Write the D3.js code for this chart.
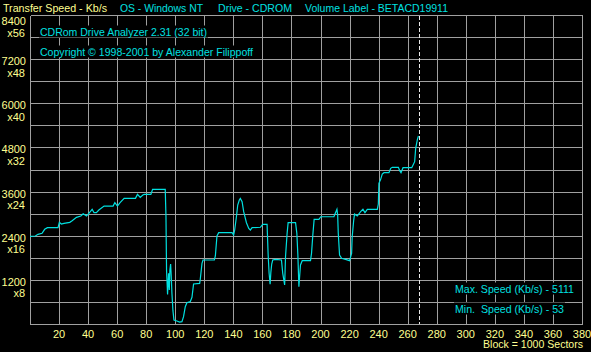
<!DOCTYPE html>
<html>
<head>
<meta charset="utf-8">
<script src="https://cdn.jsdelivr.net/npm/d3@7"></script>
<style>
  html, body { margin: 0; padding: 0; background: #000; }
  svg { display: block; }
  text { font-family: 'Liberation Sans', Arial, sans-serif; font-size: 11px; white-space: pre; }
</style>
</head>
<body>
<svg id="chart" width="591" height="352"></svg>
<script>
const width = 591, height = 352

// block number (x 1000 sectors) and transfer speed (Kb/s)
const blocks = [0, 3.7, 5.5, 8.3, 10.1, 12, 19.3, 20.2, 21.6, 23.4, 27.4, 29, 32, 35, 36.6, 38.9, 40.5, 42.8, 44.1, 45.7,
  47.4, 51, 57.2, 58.4, 60.2, 62, 64.8, 72.6, 74, 75.9, 77.7, 78.6, 83.2, 84.4, 93.1, 93.6, 94, 94.7, 95.4, 95.9,
  96.3, 96.8, 97.2, 97.7, 98.4, 99.1, 101.1, 103, 104.6, 105.7, 106.9, 108, 110.3, 111.5, 112.6, 116.8, 117.2, 118.4, 119.1, 126.9,
  127.6, 128.7, 129.9, 139.1, 140.2, 140.9, 142.1, 143, 144.1, 144.8, 146, 147.1, 149, 150.6, 151.7, 152.9, 158.6, 160.2, 163.2, 163.9,
  164.6, 165.3, 165.8, 166.4, 167.1, 169, 173.1, 174, 175.3, 175.9, 177, 177.7, 182.8, 183.7, 184.4, 185.1, 186.2, 187.4, 193.1, 193.8,
  194.7, 195.6, 198.9, 200.2, 209.2, 210.3, 211.3, 211.8, 212.2, 213.1, 214.5, 217.2, 220, 221.4, 221.8, 222.8, 223.4, 225.3, 227.6, 229.2,
  230.6, 232.2, 239.1, 239.8, 240.2, 241.4, 242.5, 243.7, 247.1, 248.3, 249.4, 253.6, 254.5, 255.4, 256.8, 262.8, 263.7, 264.8, 265.5, 266.7, 267.4]
const speeds = [2380, 2392, 2438, 2465, 2574, 2618, 2618, 2764, 2718, 2737, 2764, 2808, 2900, 2935, 2998, 2935, 3008, 3117, 3026, 3026,
  3099, 3207, 3207, 3298, 3207, 3298, 3415, 3415, 3524, 3443, 3506, 3524, 3524, 3660, 3660, 2935, 1468, 800, 1378, 924,
  1468, 1631, 1332, 834, 362, 109, 82, 53, 64, 199, 471, 580, 607, 725, 1087, 1105, 1214, 1649, 1740, 1740,
  1848, 2392, 2482, 2482, 2419, 2555, 2916, 3234, 3370, 3415, 3325, 3053, 2754, 2600, 2555, 2618, 2630, 2709, 2709, 1921,
  1378, 1079, 1400, 1631, 1740, 1758, 1740, 1378, 1060, 1830, 2465, 2754, 2754, 2465, 1875, 1014, 1604, 1722, 1722, 1921,
  2419, 2845, 2845, 2916, 2916, 3026, 3117, 2962, 2482, 1875, 1785, 1758, 1722, 1921, 2373, 2808, 2990, 2935, 3053, 3117,
  3026, 3117, 3117, 3262, 3824, 3933, 4077, 4113, 4113, 4232, 4259, 4259, 4168, 4113, 4250, 4250, 4322, 4412, 4775, 5020, 5111]

const xTicks = d3.range(20, 381, 20)
const yTicks = d3.range(1200, 8401, 1200)   // labelled lines, multiplier = speed / 150
const lastBlock = 267.8
const maxSpeed = 5111, minSpeed = 53

const header = [
  {text: 'Transfer Speed - Kb/s', x: 3, w: 104, color: '#ffff90'},
  {text: 'OS - Windows NT', x: 120, w: 83, color: '#00e0e0'},
  {text: 'Drive - CDROM', x: 218, w: 74, color: '#00e0e0'},
  {text: 'Volume Label - BETACD19911', x: 305, w: 143, color: '#00e0e0'}
]

const yellow = '#ffff90', cyan = '#00e0e0', gridColor = '#a0a0a0'

const svg = d3.select('#chart')
svg.append('rect').attr('width', width).attr('height', height).attr('fill', '#000')

const x = d3.scaleLinear().domain([0, 380]).range([30, 582])
const y = d3.scaleLinear().domain([0, 8400]).range([324, 15])
const px = v => Math.round(v) + 0.5

// grid
let grid = svg.append('g').attr('class', 'grid').attr('shape-rendering', 'crispEdges')
grid.selectAll('line.v').data(d3.range(0, 381, 20)).enter().append('line')
    .attr('x1', d => px(x(d))).attr('x2', d => px(x(d)))
    .attr('y1', px(y(8400))).attr('y2', px(y(0)))
    .attr('stroke', gridColor)
grid.selectAll('line.h').data(d3.range(0, 8401, 600)).enter().append('line')
    .attr('y1', d => px(y(d))).attr('y2', d => px(y(d)))
    .attr('x1', px(x(0))).attr('x2', px(x(380)))
    .attr('stroke', gridColor)

// text with an opaque black box behind it, like the original window
const boxedText = (g, str, tx, ty, color, w) => {
  let t = g.append('text').attr('x', tx).attr('y', ty).attr('fill', color).text(str)
  if(w) t.attr('textLength', w).attr('lengthAdjust', 'spacingAndGlyphs')
  const b = t.node().getBBox()
  g.insert('rect', () => t.node())
    .attr('x', b.x - 1).attr('y', ty - 10).attr('width', b.width + 2).attr('height', 12)
    .attr('fill', '#000')
  return t
}

let notes = svg.append('g').attr('class', 'notes')
boxedText(notes, 'CDRom Drive Analyzer 2.31 (32 bit)', 40, 35.5, cyan, 167)
boxedText(notes, 'Copyright \u00a9 1998-2001 by Alexander Filippoff', 40, 55.5, cyan, 213)
boxedText(notes, 'Max. Speed (Kb/s) - ' + maxSpeed, 455, 292.5, cyan, 119)
boxedText(notes, 'Min.  Speed (Kb/s) - ' + minSpeed, 455, 312.5, cyan, 109)

// end-of-disc marker
svg.append('line')
   .attr('x1', px(x(lastBlock))).attr('x2', px(x(lastBlock)))
   .attr('y1', y(8400) + 1).attr('y2', y(0))
   .attr('stroke', '#e8e8e8').attr('stroke-dasharray', '4,2')
   .attr('shape-rendering', 'crispEdges')

// speed trace
const points = blocks.map((b, i) => [b, speeds[i]])
const line = d3.line().x(d => x(d[0])).y(d => y(d[1]))
svg.append('path').datum(points)
   .attr('d', line)
   .attr('fill', 'none')
   .attr('stroke', cyan)
   .attr('stroke-width', 1.2)
   .attr('stroke-linejoin', 'miter')

// y labels
let yLabels = svg.append('g').attr('class', 'ylabels').attr('fill', yellow).attr('text-anchor', 'end')
yTicks.forEach(v => {
  const base = v === 8400 ? 25 : y(v) + 6
  yLabels.append('text').attr('x', 26).attr('y', base).text(v)
  yLabels.append('text').attr('x', 25).attr('y', base + 11.5).text('x' + v / 150)
})

// x labels
svg.append('g').attr('class', 'xlabels').attr('fill', yellow).attr('text-anchor', 'middle')
   .selectAll('text').data(xTicks).enter().append('text')
   .attr('x', d => x(d)).attr('y', 337.5).text(d => d)
svg.append('text').attr('x', 483).attr('y', 348).attr('fill', yellow)
   .attr('textLength', 100).attr('lengthAdjust', 'spacingAndGlyphs')
   .text('Block = 1000 Sectors')

// header line
svg.append('g').attr('class', 'header').selectAll('text').data(header).enter().append('text')
   .attr('x', d => d.x).attr('y', 12).attr('fill', d => d.color)
   .attr('textLength', d => d.w).attr('lengthAdjust', 'spacingAndGlyphs')
   .text(d => d.text)
</script>
</body>
</html>
